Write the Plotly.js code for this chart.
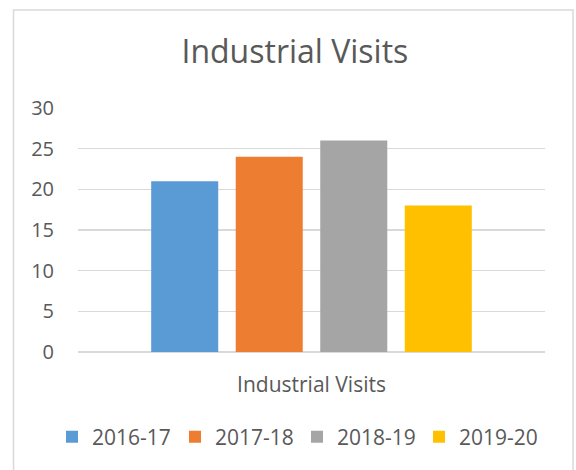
<!DOCTYPE html>
<html>
<head>
<meta charset="utf-8">
<script src="https://cdn.plot.ly/plotly-3.0.1.min.js"></script>
<style>
  html, body { margin: 0; padding: 0; background: #ffffff; }
  #chart { width: 576px; height: 470px; }
</style>
</head>
<body>
<div id="chart"></div>
<script>
const chartTitle = 'Industrial Visits';
const categories = ['Industrial Visits'];
const seriesNames = ['2016-17', '2017-18', '2018-19', '2019-20'];
const seriesValues = [21, 24, 26, 18];
const seriesColors = ['#5B9BD5', '#ED7D31', '#A5A5A5', '#FFC000'];
const yTicks = [0, 5, 10, 15, 20, 25, 30];

const textColor = '#595959';
const gridColor = '#D9D9D9';
const fontFamily = '"Open Sans", "Liberation Sans", sans-serif';

// legend entry left edges (container pixels) for each series
const legendLeft = [52, 175, 297, 419];
const legendIds = ['legend', 'legend2', 'legend3', 'legend4'];

const traces = seriesNames.map((name, i) => ({
  type: 'bar',
  name: name,
  x: categories,
  y: [seriesValues[i]],
  legend: legendIds[i],
  marker: { color: seriesColors[i], line: { width: 0 } },
  hoverinfo: 'skip'
}));

const layout = {
  width: 576,
  height: 470,
  paper_bgcolor: '#ffffff',
  plot_bgcolor: '#ffffff',
  margin: { l: 78, r: 31, t: 108, b: 118, pad: 0, autoexpand: false },
  barmode: 'group',
  bargap: 0.276,
  bargroupgap: 0.207,
  title: {
    text: chartTitle,
    font: { family: fontFamily, size: 32, color: textColor },
    x: 0.512, xanchor: 'center',
    y: 1 - 52 / 470, yanchor: 'middle', yref: 'container'
  },
  xaxis: {
    type: 'category',
    showgrid: false,
    showline: false,
    zeroline: false,
    ticks: '',
    ticklabelstandoff: 18,
    tickfont: { family: fontFamily, size: 21, color: textColor }
  },
  yaxis: {
    range: [0, 30],
    tickvals: yTicks,
    ticktext: yTicks.map(String),
    showgrid: true,
    gridcolor: gridColor,
    gridwidth: 1.5,
    zeroline: true,
    zerolinecolor: gridColor,
    zerolinewidth: 1.5,
    showline: false,
    ticks: '',
    ticklabelstandoff: 23,
    tickfont: { family: fontFamily, size: 20, color: textColor }
  },
  showlegend: true,
  shapes: [{
    type: 'rect', xref: 'paper', yref: 'paper',
    x0: -0.1381, x1: 1.0600, y0: -0.49, y1: 1.4015,
    line: { color: gridColor, width: 1.5 },
    fillcolor: 'rgba(0,0,0,0)',
    layer: 'below'
  }]
};

legendIds.forEach((id, i) => {
  layout[id] = {
    orientation: 'h',
    xref: 'container', yref: 'container',
    x: legendLeft[i] / 576, xanchor: 'left',
    y: 1 - 437 / 470, yanchor: 'middle',
    font: { family: fontFamily, size: 21, color: textColor },
    bgcolor: 'rgba(0,0,0,0)',
    borderwidth: 0
  };
});

Plotly.newPlot('chart', traces, layout, { staticPlot: true, displayModeBar: false });
</script>
</body>
</html>
